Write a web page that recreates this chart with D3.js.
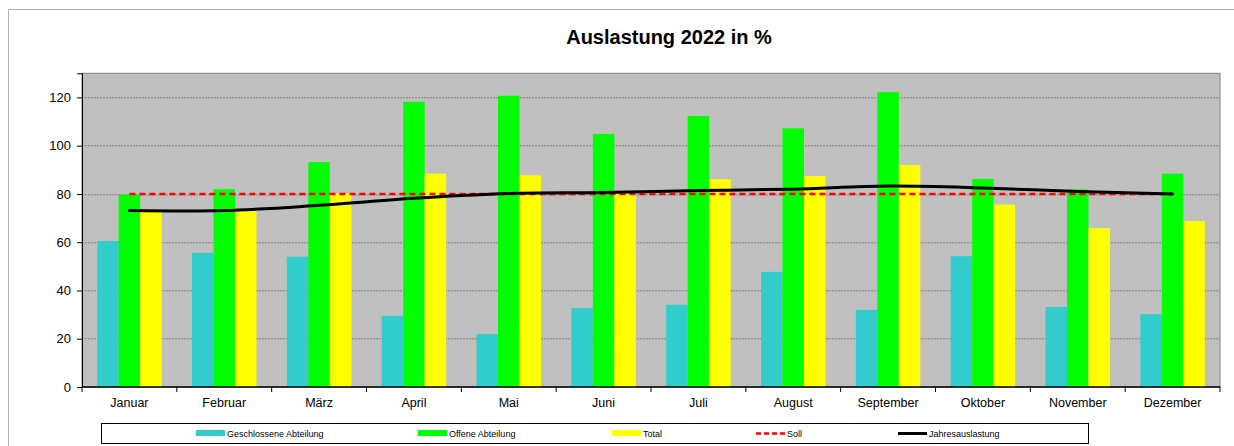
<!DOCTYPE html>
<html>
<head>
<meta charset="utf-8">
<script src="https://cdn.jsdelivr.net/npm/d3@7"></script>
<style>
  body { margin: 0; background: #fff; }
  svg { display: block; font-family: "Liberation Sans", Arial, sans-serif; }
</style>
</head>
<body>
<div id="chart"></div>
<script>
// data
var months = ["Januar", "Februar", "März", "April", "Mai", "Juni", "Juli", "August", "September", "Oktober", "November", "Dezember"];
var geschlossen = [60.5, 55.6, 54.0, 29.5, 21.9, 32.7, 34.1, 47.7, 32.0, 54.2, 33.2, 30.2];
var offen = [79.7, 82.0, 93.2, 118.2, 120.7, 104.9, 112.3, 107.2, 122.2, 86.2, 81.9, 88.4];
var total = [73.0, 73.0, 80.3, 88.4, 87.7, 80.2, 86.1, 87.4, 92.0, 75.6, 65.9, 68.8];
var soll = [80, 80, 80, 80, 80, 80, 80, 80, 80, 80, 80, 80];
var jahres = [73.1, 73.1, 75.3, 78.2, 80.2, 80.6, 81.4, 82.0, 83.3, 82.5, 81.0, 80.0];
var yTicks = [0, 20, 40, 60, 80, 100, 120];

var seriesNames = ["Geschlossene Abteilung", "Offene Abteilung", "Total"];
var barColors = ["#33cccc", "#00ff00", "#ffff00"];

var W = 1234, H = 446;
var margin = { top: 73.3, right: 14, bottom: 59, left: 82 };
var plotW = W - margin.left - margin.right,
  plotH = H - margin.top - margin.bottom;

var svg = d3.select("#chart").append("svg")
  .attr("width", W)
  .attr("height", H);

// outer chart frame (only top and left visible)
svg.append("path")
  .attr("d", "M8.5," + H + "V9.5H" + W)
  .attr("fill", "none")
  .attr("stroke", "#b0b0b0")
  .attr("stroke-width", 1);

// title
svg.append("text")
  .attr("x", 669)
  .attr("y", 44)
  .attr("text-anchor", "middle")
  .style("font-size", "20px")
  .style("font-weight", "bold")
  .text("Auslastung 2022 in %");

var g = svg.append("g")
  .attr("transform", "translate(" + margin.left + "," + margin.top + ")");

var x0 = d3.scaleBand().domain(months).range([0, plotW]).paddingInner(0.32).paddingOuter(0.16);
var x1 = d3.scaleBand().domain(d3.range(3)).range([0, x0.bandwidth()]);
var xTicks = d3.scaleBand().domain(months).range([0, plotW]);
var y = d3.scaleLinear().domain([0, 130]).range([plotH, 0]);

// plot background
g.append("rect")
  .attr("width", plotW)
  .attr("height", plotH)
  .attr("fill", "#c0c0c0")
  .attr("stroke", "#808080")
  .attr("stroke-width", 1);

// gridlines
g.append("g")
  .selectAll("line")
  .data(yTicks.filter(function (d) { return d > 0; }))
  .enter().append("line")
  .attr("x1", 0)
  .attr("x2", plotW)
  .attr("y1", function (d) { return Math.round(y(d)) + 0.5; })
  .attr("y2", function (d) { return Math.round(y(d)) + 0.5; })
  .attr("stroke", "#808080")
  .attr("stroke-dasharray", "2,1");

// bars
var allSeries = [geschlossen, offen, total];
var groups = g.append("g")
  .selectAll("g")
  .data(months)
  .enter().append("g")
  .attr("transform", function (d) { return "translate(" + x0(d) + ",0)"; });

groups.selectAll("rect")
  .data(function (d, i) { return allSeries.map(function (s, k) { return { k: k, v: s[i] }; }); })
  .enter().append("rect")
  .attr("x", function (d) { return x1(d.k); })
  .attr("y", function (d) { return y(d.v); })
  .attr("width", x1.bandwidth())
  .attr("height", function (d) { return plotH - y(d.v); })
  .attr("fill", function (d) { return barColors[d.k]; });

// Soll line
var lineSoll = d3.line()
  .x(function (d, i) { return xTicks(months[i]) + xTicks.bandwidth() / 2; })
  .y(function (d) { return y(d); });

g.append("path")
  .datum(soll)
  .attr("d", lineSoll)
  .attr("fill", "none")
  .attr("stroke", "#ff0000")
  .attr("stroke-width", 2.5)
  .attr("stroke-dasharray", "6,4");

// Jahresauslastung (smoothed)
var lineJahr = d3.line()
  .x(function (d, i) { return xTicks(months[i]) + xTicks.bandwidth() / 2; })
  .y(function (d) { return y(d); })
  .curve(d3.curveCatmullRom.alpha(0.5));

g.append("path")
  .datum(jahres)
  .attr("d", lineJahr)
  .attr("fill", "none")
  .attr("stroke", "#000")
  .attr("stroke-width", 3)
  .attr("stroke-linecap", "round");

// Y axis
var yAxis = g.append("g")
  .call(d3.axisLeft(y).tickValues(yTicks).tickSize(5).tickPadding(6));
yAxis.select(".domain").attr("stroke", "#000");
yAxis.selectAll("text").style("font-size", "13px").attr("fill", "#000");

// X axis with ticks at category boundaries
var xAxis = g.append("g")
  .attr("transform", "translate(0," + plotH + ")");
xAxis.append("line")
  .attr("x1", 0).attr("x2", plotW)
  .attr("stroke", "#000").attr("stroke-width", 1.5);
xAxis.selectAll("line.tick")
  .data(months.concat(["end"]))
  .enter().append("line")
  .attr("class", "tick")
  .attr("x1", function (d, i) { return i * xTicks.step(); })
  .attr("x2", function (d, i) { return i * xTicks.step(); })
  .attr("y1", 0).attr("y2", 5)
  .attr("stroke", "#000");
xAxis.selectAll("text")
  .data(months)
  .enter().append("text")
  .attr("x", function (d) { return xTicks(d) + xTicks.bandwidth() / 2; })
  .attr("y", 20)
  .attr("text-anchor", "middle")
  .style("font-size", "12.5px")
  .text(function (d) { return d; });

// legend
var legend = svg.append("g");
legend.append("rect")
  .attr("x", 101.5).attr("y", 423.5)
  .attr("width", 987).attr("height", 20)
  .attr("fill", "#fff")
  .attr("stroke", "#000");

var legendItems = [
  { name: seriesNames[0], x: 196, type: "bar", color: barColors[0] },
  { name: seriesNames[1], x: 418, type: "bar", color: barColors[1] },
  { name: seriesNames[2], x: 612, type: "bar", color: barColors[2] },
  { name: "Soll", x: 756, type: "dash", color: "#ff0000" },
  { name: "Jahresauslastung", x: 898, type: "line", color: "#000" }
];

legendItems.forEach(function (d) {
  if (d.type === "bar") {
    legend.append("rect")
      .attr("x", d.x).attr("y", 430)
      .attr("width", 29).attr("height", 6)
      .attr("fill", d.color);
  } else {
    legend.append("line")
      .attr("x1", d.x).attr("x2", d.x + 29)
      .attr("y1", 433.5).attr("y2", 433.5)
      .attr("stroke", d.color)
      .attr("stroke-width", d.type === "dash" ? 2.5 : 3)
      .attr("stroke-dasharray", d.type === "dash" ? "5,3" : null);
  }
  legend.append("text")
    .attr("x", d.x + 31)
    .attr("y", 437)
    .style("font-size", "9px")
    .text(d.name);
});
</script>
</body>
</html>
